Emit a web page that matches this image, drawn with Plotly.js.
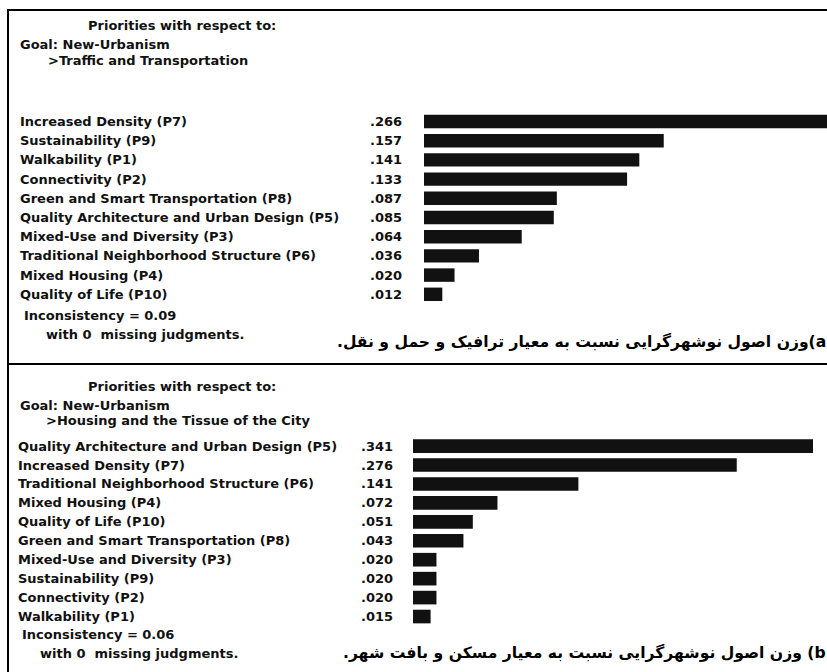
<!DOCTYPE html>
<html><head><meta charset="utf-8">
<script src="https://cdn.plot.ly/plotly-3.0.1.min.js"></script>
<style>html,body{margin:0;padding:0;background:#fff}</style>
</head><body><div id="chart" style="width:827px;height:672px"></div>
<script>
// ---- data ----
const labelsA = ["Increased Density (P7)","Sustainability (P9)","Walkability (P1)","Connectivity (P2)",
  "Green and Smart Transportation (P8)","Quality Architecture and Urban Design (P5)",
  "Mixed-Use and Diversity (P3)","Traditional Neighborhood Structure (P6)","Mixed Housing (P4)","Quality of Life (P10)"];
const valuesA = [0.266,0.157,0.141,0.133,0.087,0.085,0.064,0.036,0.020,0.012];
const labelsB = ["Quality Architecture and Urban Design (P5)","Increased Density (P7)",
  "Traditional Neighborhood Structure (P6)","Mixed Housing (P4)","Quality of Life (P10)",
  "Green and Smart Transportation (P8)","Mixed-Use and Diversity (P3)","Sustainability (P9)",
  "Connectivity (P2)","Walkability (P1)"];
const valuesB = [0.341,0.276,0.141,0.072,0.051,0.043,0.020,0.020,0.020,0.015];
const headerA = ["Priorities with respect to:","Goal: New-Urbanism",">Traffic and Transportation"];
const headerB = ["Priorities with respect to:","Goal: New-Urbanism",">Housing and the Tissue of the City"];
const footerA = ["Inconsistency = 0.09","with 0  missing judgments."];
const footerB = ["Inconsistency = 0.06","with 0  missing judgments."];
const captionA = "a)وزن اصول نوشهرگرایی نسبت به معیار ترافیک و حمل و نقل.";
const captionB = "b) وزن اصول نوشهرگرایی نسبت به معیار مسکن و بافت شهر.";

// ---- layout helpers ----
const W = 827, H = 672;
const px = x => x / W, py = y => 1 - y / H;
const fmt = v => v.toFixed(3).replace(/^0/, "");
const F = {family: "DejaVu Sans", size: 13, color: "#111", weight: "bold"};

const traces = [
  {type: "bar", orientation: "h", x: valuesA, y: labelsA, xaxis: "x", yaxis: "y",
   marker: {color: "#111"}, width: 0.7, hoverinfo: "none"},
  {type: "bar", orientation: "h", x: valuesB, y: labelsB, xaxis: "x2", yaxis: "y2",
   marker: {color: "#111"}, width: 0.72, hoverinfo: "none"}
];

const ann = [];
function txt(x, y, t, opts) {
  ann.push(Object.assign({xref: "paper", yref: "paper", x: px(x), y: py(y), text: t,
    showarrow: false, xanchor: "left", yanchor: "middle", font: F, borderpad: 0, borderwidth: 0}, opts || {}));
}
labelsA.forEach((l, i) => {
  ann.push({xref: "paper", yref: "y", x: px(20), y: l, text: l, showarrow: false, xanchor: "left", font: F, borderpad: 0, borderwidth: 0});
  ann.push({xref: "paper", yref: "y", x: px(370), y: l, text: fmt(valuesA[i]), showarrow: false, xanchor: "left", font: F, borderpad: 0, borderwidth: 0});
});
labelsB.forEach((l, i) => {
  ann.push({xref: "paper", yref: "y2", x: px(18), y: l, text: l, showarrow: false, xanchor: "left", font: F, borderpad: 0, borderwidth: 0});
  ann.push({xref: "paper", yref: "y2", x: px(361), y: l, text: fmt(valuesB[i]), showarrow: false, xanchor: "left", font: F, borderpad: 0, borderwidth: 0});
});
txt(88, 26, headerA[0]); txt(20, 45, headerA[1]); txt(48, 60, headerA[2]);
txt(88, 387, headerB[0]); txt(20, 405, headerB[1]); txt(46, 420, headerB[2]);
txt(24, 315, footerA[0]); txt(46, 334, footerA[1]);
txt(22, 634, footerB[0]); txt(40, 653, footerB[1]);
const CF = {family: "DejaVu Sans", size: 15.6, color: "#000", weight: "bold"};
txt(826, 341, "\u202B" + captionA + "\u202C", {xanchor: "right", font: CF});
txt(826, 652, "\u202B" + captionB + "\u202C", {xanchor: "right", font: CF});

const line = (x0, y0, x1, y1) => ({type: "line", xref: "paper", yref: "paper",
  x0: px(x0), y0: py(y0), x1: px(x1), y1: py(y1), line: {color: "#000", width: 2}});

const layout = {
  width: W, height: H, margin: {l: 0, r: 0, t: 0, b: 0},
  paper_bgcolor: "#fff", plot_bgcolor: "rgba(0,0,0,0)", showlegend: false,
  xaxis: {domain: [px(424), 1], range: [0, 403 / 1527], visible: false, fixedrange: true},
  yaxis: {domain: [py(303.9), py(111.9)], type: "category", range: [9.5, -0.5], visible: false, fixedrange: true},
  xaxis2: {domain: [px(413), 1], range: [0, 414 / 1173], visible: false, fixedrange: true, anchor: "y2"},
  yaxis2: {domain: [py(626), py(436.6)], type: "category", range: [9.5, -0.5], visible: false, fixedrange: true, anchor: "x2"},
  annotations: ann,
  shapes: [line(8, 10, 8, 672), line(7, 10, 827, 10), line(8, 364, 827, 364)]
};
Plotly.newPlot("chart", traces, layout, {staticPlot: true, displayModeBar: false});
</script></body></html>
